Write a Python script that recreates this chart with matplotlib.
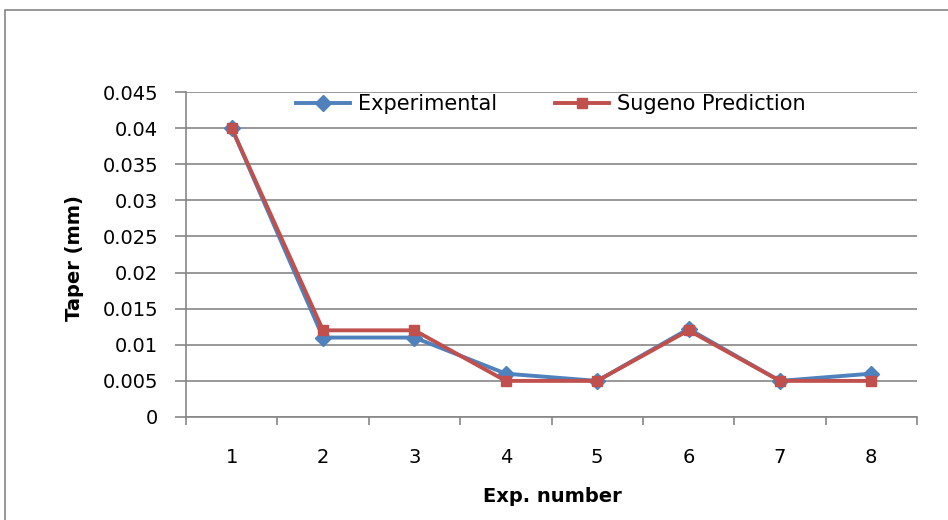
import numpy as np
import matplotlib.pyplot as plt
from matplotlib.patches import Rectangle

# --- data ---
exp_numbers = [1, 2, 3, 4, 5, 6, 7, 8]
experimental = [0.040, 0.011, 0.011, 0.006, 0.005, 0.0122, 0.005, 0.006]
sugeno = [0.040, 0.012, 0.012, 0.005, 0.005, 0.012, 0.005, 0.005]
y_ticks = [0, 0.005, 0.01, 0.015, 0.02, 0.025, 0.03, 0.035, 0.04, 0.045]
y_labels = ["0", "0.005", "0.01", "0.015", "0.02", "0.025", "0.03", "0.035", "0.04", "0.045"]

plt.rcParams["font.family"] = ["DejaVu Sans"]
blue = "#4F81BD"
red = "#C0504D"
grid = "#868686"

fig = plt.figure(figsize=(9.48, 5.2), dpi=100)
# outer chart border (cut off on right and bottom like the reference)
fig.patches.append(Rectangle((5 / 948, -0.05), 1.0, 1 - 10 / 520 + 0.05,
                             transform=fig.transFigure, fill=False,
                             edgecolor=grid, linewidth=1.2))

ax = fig.add_axes([186 / 948, 1 - 417 / 520, 731 / 948, 325 / 520])

x = np.arange(len(exp_numbers))
ax.plot(x, experimental, color=blue, lw=2.8, marker="D", ms=8.5,
        label="Experimental", zorder=3)
ax.plot(x, sugeno, color=red, lw=2.8, marker="s", ms=7,
        label="Sugeno Prediction", zorder=4)

ax.set_xlim(-0.5, len(exp_numbers) - 0.5)
ax.set_ylim(0, 0.045)
ax.set_yticks(y_ticks)
ax.set_yticklabels(y_labels, fontsize=14)
ax.set_xticks(np.arange(-0.5, len(exp_numbers), 1.0))
ax.set_xticklabels([])
ax.set_xticks(x, minor=True)
ax.set_xticklabels([str(n) for n in exp_numbers], minor=True, fontsize=14)
ax.tick_params(axis="x", which="major", length=6, width=1.2, color=grid, direction="out")
ax.tick_params(axis="x", which="minor", length=0, pad=22)
ax.tick_params(axis="y", length=8, width=1.2, color=grid, pad=12)

ax.grid(axis="y", color=grid, lw=1.2, zorder=0)
ax.set_axisbelow(True)
for side in ["top", "right"]:
    ax.spines[side].set_visible(False)
for side in ["left", "bottom"]:
    ax.spines[side].set_color(grid)
    ax.spines[side].set_linewidth(1.2)

fig.text(75 / 948, 1 - 258 / 520, "Taper (mm)", fontsize=14, fontweight="bold",
         rotation=90, ha="center", va="center")
fig.text(552 / 948, 1 - 497 / 520, "Exp. number", fontsize=14, fontweight="bold",
         ha="center", va="center")

leg = ax.legend(loc="center", bbox_to_anchor=(0.499, (417 - 104) / 325), ncol=2,
                frameon=False, fontsize=15, handlelength=2.6,
                columnspacing=2.8, handletextpad=0.35, borderpad=0.2)

fig.savefig("out.png", dpi=100)
